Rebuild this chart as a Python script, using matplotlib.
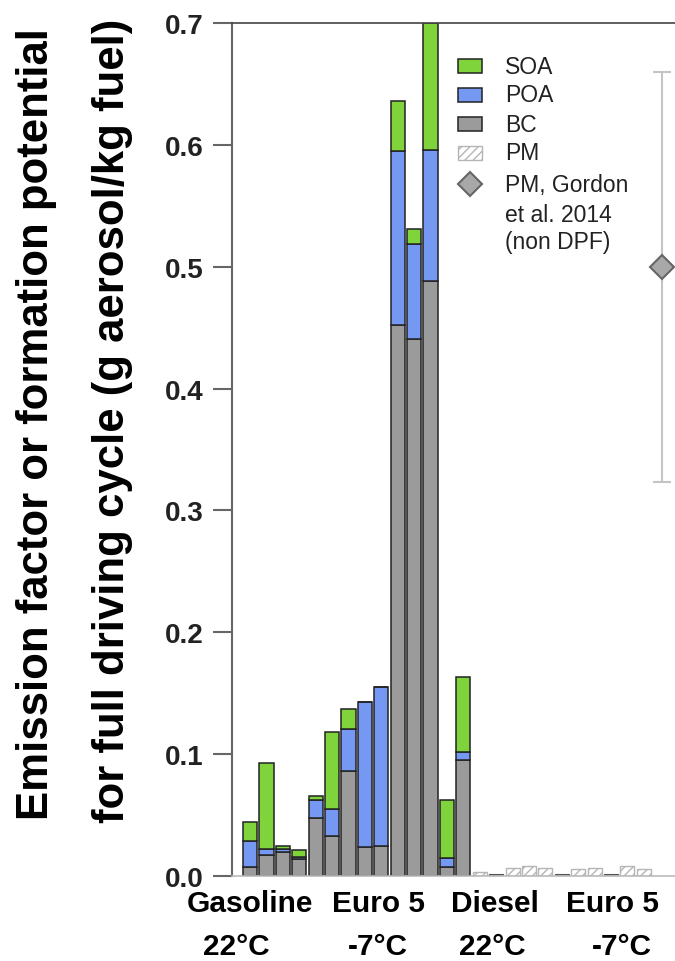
import numpy as np
from matplotlib import pyplot as plt
from matplotlib.patches import Rectangle
from matplotlib.lines import Line2D

plt.rcParams['font.family'] = ['Liberation Sans', 'DejaVu Sans']

# vehicle bars (gasoline euro 5 at 22C / -7C, then two diesel non-DPF)
bc = [0.007, 0.017, 0.020, 0.014, 0.048, 0.033, 0.086, 0.024, 0.025,
      0.452, 0.441, 0.488, 0.007, 0.095]
poa = [0.022, 0.005, 0.002, 0.002, 0.014, 0.022, 0.035, 0.119, 0.130,
       0.143, 0.078, 0.108, 0.008, 0.007]
soa = [0.015, 0.071, 0.003, 0.005, 0.004, 0.063, 0.016, 0.000, 0.000,
       0.041, 0.012, 0.104, 0.047, 0.061]
# diesel DPF vehicles: only PM (hatched) or tiny BC
pm_dpf = [0.003, 0.0, 0.0066, 0.008, 0.0066, 0.0, 0.006, 0.0066, 0.0, 0.008, 0.006]
bc_dpf = [0.0, 0.0016, 0.0, 0.0, 0.0, 0.0016, 0.0, 0.0, 0.0016, 0.0, 0.0]

# Gordon et al. 2014 reference point
gordon_pm = 0.50
gordon_lo = 0.323
gordon_hi = 0.66

group_top = ["Gasoline", "Euro 5", "Diesel", "Euro 5"]
group_bot = ["22°C", "-7°C", "22°C", "-7°C"]
legend_labels = ["SOA", "POA", "BC", "PM"]
gordon_label = ["PM, Gordon", "et al. 2014", "(non DPF)"]

c_soa = "#7fd43c"
c_poa = "#7599f2"
c_bc = "#9b9b9b"
edge = "#222222"

W, H = 675, 962
fig = plt.figure(figsize=(6.75, 9.62), dpi=100)
ax = fig.add_axes([232/W, 1-877/H, 1-232/W, (877-24)/H])

n = len(bc)
x = np.arange(n)
w = 0.86
bc, poa, soa = np.array(bc), np.array(poa), np.array(soa)
ax.bar(x, bc, w, color=c_bc, edgecolor=edge, lw=1.1)
ax.bar(x, poa, w, bottom=bc, color=c_poa, edgecolor=edge, lw=1.1)
ax.bar(x, soa, w, bottom=bc+poa, color=c_soa, edgecolor=edge, lw=1.1)

x2 = np.arange(n, n + len(pm_dpf))
ax.bar(x2, pm_dpf, w, color="white", edgecolor="#b5b5b5", hatch="////", lw=1.0)
ax.bar(x2, bc_dpf, w, color="#8a8a8a", edgecolor="#555555", lw=0.8)

xg = n + len(pm_dpf) + 0.1
ax.errorbar([xg], [gordon_pm], yerr=[[gordon_pm - gordon_lo], [gordon_hi - gordon_pm]],
            fmt="D", ms=12.7, mfc="#a8a8a8", mec="#666666", mew=1.5,
            ecolor="#c4c4c4", elinewidth=1.5, capsize=6.5, capthick=1.5)

ax.set_xlim(-1.1, 25.9)
ax.set_ylim(0, 0.7)
ax.set_yticks(np.arange(0, 0.71, 0.1))
ax.set_yticklabels([f"{v:.1f}" for v in np.arange(0, 0.71, 0.1)],
                   fontsize=20, fontweight="bold", color="#222222")
ax.set_xticks([])
ax.tick_params(axis="y", direction="out", length=13.5, width=1.5, color="#666666", pad=7)
ax.spines["right"].set_visible(False)
ax.spines["left"].set_color("#666666")
ax.spines["left"].set_linewidth(1.5)
ax.spines["top"].set_color("#444444")
ax.spines["top"].set_linewidth(1.2)
ax.spines["bottom"].set_color("#bbbbbb")
ax.spines["bottom"].set_linewidth(1.2)

# legend drawn by hand (pixel layout of the original)
row_y = [67, 96, 125, 154]
styles = [dict(facecolor=c_soa, edgecolor=edge, lw=1.1),
          dict(facecolor=c_poa, edgecolor=edge, lw=1.1),
          dict(facecolor=c_bc, edgecolor=edge, lw=1.1),
          dict(facecolor="white", edgecolor="#b5b5b5", hatch="////", lw=1.0)]
for lab, py, st in zip(legend_labels, row_y, styles):
    fig.add_artist(Rectangle((458/W, 1-(py+7)/H), 24/W, 14/H, transform=fig.transFigure, **st))
    fig.text(505/W, 1-py/H, lab, ha="left", va="center", fontsize=16.5, color="#222222")
fig.add_artist(Line2D([470/W], [1-185/H], marker="D", ms=12, mfc="#a8a8a8", mec="#666666",
                      mew=1.5, transform=fig.transFigure))
for lab, py in zip(gordon_label, [186, 215, 243]):
    fig.text(505/W, 1-py/H, lab, ha="left", va="center", fontsize=16.5, color="#222222")

# y label, two lines
fig.text(37/W, 1-424/H, "Emission factor or formation potential",
         rotation=90, ha="center", va="center", fontsize=31.5, fontweight="bold")
fig.text(113/W, 1-421/H, "for full driving cycle (g aerosol/kg fuel)",
         rotation=90, ha="center", va="center", fontsize=31.5, fontweight="bold")

# group labels under the axis
top_x = [250, 378, 495, 612]
bot_x = [236, 378, 492, 622]
for lab, px in zip(group_top, top_x):
    fig.text(px/W, 1-904/H, lab, ha="center", va="center", fontsize=21.5, fontweight="bold")
for lab, px in zip(group_bot, bot_x):
    fig.text(px/W, 1-947/H, lab, ha="center", va="center", fontsize=21.5, fontweight="bold")

fig.savefig("out.png", dpi=100)
